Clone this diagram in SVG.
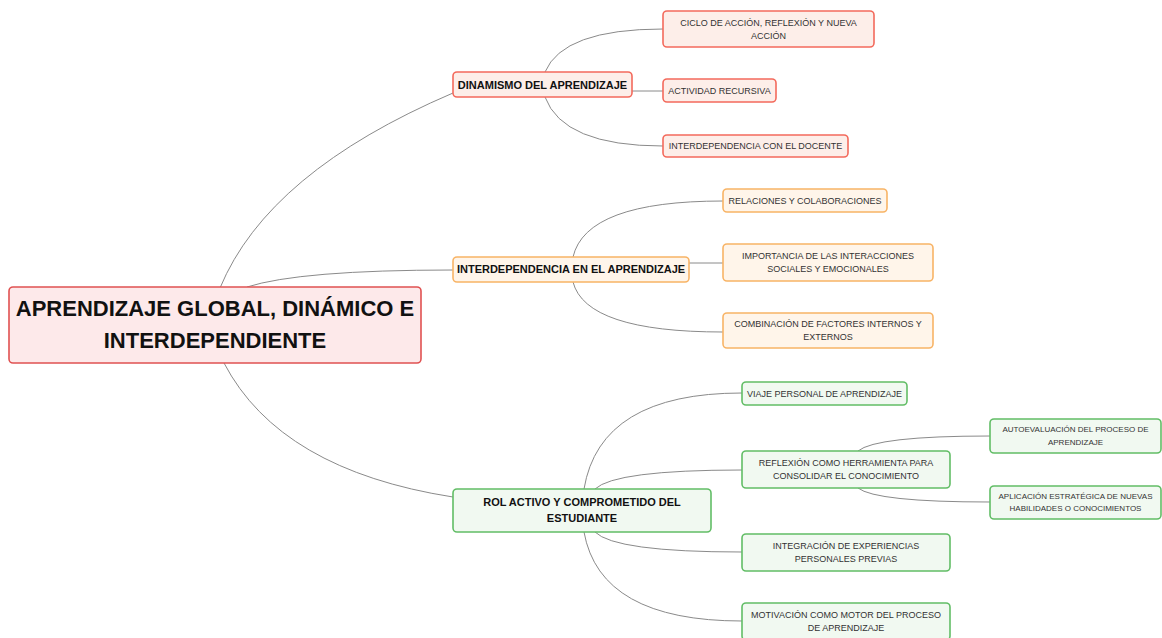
<svg xmlns="http://www.w3.org/2000/svg" width="1162" height="638" viewBox="0 0 1162 638">
<style>
.bg{fill:#ffffff}
.c{fill:none;stroke:#8a8a8a;stroke-width:1}
rect{stroke-width:1.6}
.root{fill:#fde9ea;stroke:#e05252}
.r{fill:#fdeee9;stroke:#f36a5c}
.o{fill:#fff5ea;stroke:#f8b466}
.g{fill:#f1f9f1;stroke:#62bd66}
text{font-family:"Liberation Sans",Arial,sans-serif;text-anchor:middle}
.t0{font-size:22px;font-weight:bold;fill:#111}
.t1{font-size:11px;font-weight:bold;fill:#111}
.t2{font-size:9px;fill:#333}
.t3{font-size:8px;fill:#333}
</style>
<rect class="bg" x="0" y="0" width="1162" height="638"/>
<g id="connectors">
<path class="c" d="M220,288 Q268,172 453,93"/>
<path class="c" d="M247,287 Q300,270 453,270"/>
<path class="c" d="M224,363 Q280,470 453,497"/>
<path class="c" d="M545,72 Q563,29 663,29"/>
<path class="c" d="M632,91 L663,91"/>
<path class="c" d="M545,97 Q563,146 663,146"/>
<path class="c" d="M573,257 Q586,201 723,201"/>
<path class="c" d="M689,263 L723,263"/>
<path class="c" d="M573,282 Q586,332 723,332"/>
<path class="c" d="M584,489 Q600,393 742,393"/>
<path class="c" d="M595,489 Q615,470 742,470"/>
<path class="c" d="M595,532 Q615,552 742,552"/>
<path class="c" d="M584,532 Q600,621 742,621"/>
<path class="c" d="M858,451 Q876,436 990,436"/>
<path class="c" d="M858,488 Q876,502 990,502"/>
</g>
<g id="root">
<rect class="root" x="9" y="287" width="412" height="76" rx="4"/>
<text class="t0" x="215" y="316">APRENDIZAJE GLOBAL, DINÁMICO E</text>
<text class="t0" x="215" y="348">INTERDEPENDIENTE</text>
</g>
<g id="dinamismo">
<rect class="r" x="453" y="72" width="179" height="25" rx="4"/>
<text class="t1" x="542.5" y="88.5">DINAMISMO DEL APRENDIZAJE</text>
</g>
<g id="ciclo">
<rect class="r" x="663" y="11" width="211" height="36" rx="4"/>
<text class="t2" x="768.5" y="25.7">CICLO DE ACCIÓN, REFLEXIÓN Y NUEVA</text>
<text class="t2" x="768.5" y="38.7">ACCIÓN</text>
</g>
<g id="actividad">
<rect class="r" x="663" y="79" width="113" height="23" rx="4"/>
<text class="t2" x="719.5" y="93.7">ACTIVIDAD RECURSIVA</text>
</g>
<g id="docente">
<rect class="r" x="663" y="135" width="185" height="22" rx="4"/>
<text class="t2" x="755.5" y="149.2">INTERDEPENDENCIA CON EL DOCENTE</text>
</g>
<g id="interdependencia">
<rect class="o" x="453" y="257" width="236" height="25" rx="4"/>
<text class="t1" x="571" y="273.2">INTERDEPENDENCIA EN EL APRENDIZAJE</text>
</g>
<g id="relaciones">
<rect class="o" x="723" y="189" width="164" height="23" rx="4"/>
<text class="t2" x="805" y="203.7">RELACIONES Y COLABORACIONES</text>
</g>
<g id="importancia">
<rect class="o" x="723" y="244" width="210" height="37" rx="4"/>
<text class="t2" x="828" y="259.2">IMPORTANCIA DE LAS INTERACCIONES</text>
<text class="t2" x="828" y="272.2">SOCIALES Y EMOCIONALES</text>
</g>
<g id="combinacion">
<rect class="o" x="723" y="313" width="210" height="35" rx="4"/>
<text class="t2" x="828" y="327.2">COMBINACIÓN DE FACTORES INTERNOS Y</text>
<text class="t2" x="828" y="340.2">EXTERNOS</text>
</g>
<g id="rol">
<rect class="g" x="453" y="489" width="258" height="43" rx="4"/>
<text class="t1" x="582" y="506">ROL ACTIVO Y COMPROMETIDO DEL</text>
<text class="t1" x="582" y="522.3">ESTUDIANTE</text>
</g>
<g id="viaje">
<rect class="g" x="742" y="382" width="165" height="23" rx="4"/>
<text class="t2" x="824.5" y="396.7">VIAJE PERSONAL DE APRENDIZAJE</text>
</g>
<g id="reflexion">
<rect class="g" x="742" y="451" width="208" height="37" rx="4"/>
<text class="t2" x="846" y="466">REFLEXIÓN COMO HERRAMIENTA PARA</text>
<text class="t2" x="846" y="479">CONSOLIDAR EL CONOCIMIENTO</text>
</g>
<g id="integracion">
<rect class="g" x="742" y="534" width="208" height="37" rx="4"/>
<text class="t2" x="846" y="549">INTEGRACIÓN DE EXPERIENCIAS</text>
<text class="t2" x="846" y="562">PERSONALES PREVIAS</text>
</g>
<g id="motivacion">
<rect class="g" x="742" y="603" width="208" height="37" rx="4"/>
<text class="t2" x="846" y="617.5">MOTIVACIÓN COMO MOTOR DEL PROCESO</text>
<text class="t2" x="846" y="630.8">DE APRENDIZAJE</text>
</g>
<g id="autoevaluacion">
<rect class="g" x="990" y="419" width="171" height="34" rx="4"/>
<text class="t3" x="1075.5" y="432">AUTOEVALUACIÓN DEL PROCESO DE</text>
<text class="t3" x="1075.5" y="444.5">APRENDIZAJE</text>
</g>
<g id="aplicacion">
<rect class="g" x="990" y="486" width="171" height="33" rx="4"/>
<text class="t3" x="1075.5" y="498.5">APLICACIÓN ESTRATÉGICA DE NUEVAS</text>
<text class="t3" x="1075.5" y="510.8">HABILIDADES O CONOCIMIENTOS</text>
</g>
</svg>
